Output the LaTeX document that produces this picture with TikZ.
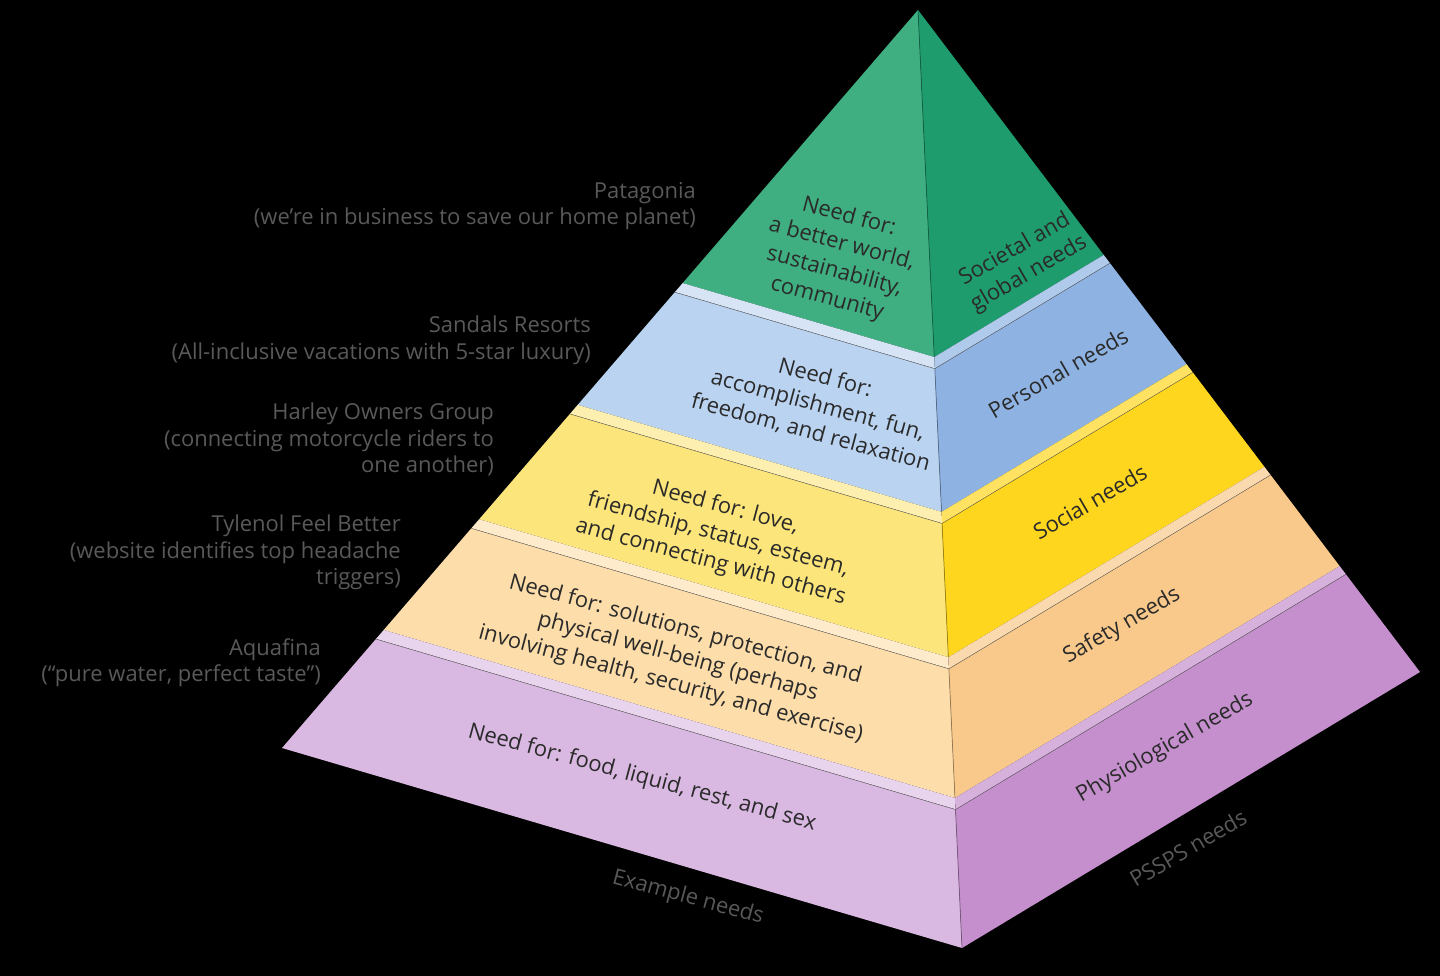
\documentclass[tikz,border=0pt]{standalone}
\usepackage{fontspec}
\setmainfont{Open Sans}
\usetikzlibrary{calc}
\definecolor{ink}{HTML}{2A2A2A}
\definecolor{gpL}{HTML}{3FAE80}\definecolor{gpR}{HTML}{1E9C6E}
\definecolor{blL}{HTML}{BAD3F0}\definecolor{blR}{HTML}{8EB3E2}
\definecolor{yeL}{HTML}{FCE57A}\definecolor{yeR}{HTML}{FFD61E}
\definecolor{orL}{HTML}{FDDDAA}\definecolor{orR}{HTML}{F8C98B}
\definecolor{puL}{HTML}{D9B8E1}\definecolor{puR}{HTML}{C48FCC}
\tikzset{
  facetext/.style={font=\fontsize{12.5}{16}\selectfont, text=ink, align=center, rotate=-15},
  sidetext/.style={font=\fontsize{12.5}{16}\selectfont, text=ink, align=center, rotate=30},
  example/.style={font=\fontsize{12.5}{15}\selectfont, text=black!65, align=right, anchor=north east}
}
% one band of the pyramid: #1 from, #2 to, #3 left colour, #4 right colour
\newcommand{\band}[4]{%
  \fill[#3] ($(A)!#1!(L)$) -- ($(A)!#1!(F)$) -- ($(A)!#2!(F)$) -- ($(A)!#2!(L)$) -- cycle;
  \fill[#4] ($(A)!#1!(F)$) -- ($(A)!#1!(R)$) -- ($(A)!#2!(R)$) -- ($(A)!#2!(F)$) -- cycle;
  \draw[black!70, line width=0.6pt] ($(A)!#1!(L)$) -- ($(A)!#1!(F)$) -- ($(A)!#1!(R)$);
  \draw[#4!60!black, line width=0.4pt] ($(A)!#1!(F)$) -- ($(A)!#2!(F)$);
}
\newcommand{\ledge}[3]{%
  \fill[#2!60!white] ($(A)!#1!(L)$) -- ($(A)!#1!(F)$) -- ($(A)!#1+0.012!(F)$) -- ($(A)!#1+0.012!(L)$) -- cycle;
  \fill[#3!70!white] ($(A)!#1!(F)$) -- ($(A)!#1!(R)$) -- ($(A)!#1+0.012!(R)$) -- ($(A)!#1+0.012!(F)$) -- cycle;
}
\begin{document}
\begin{tikzpicture}[x=0.02cm, y=-0.02cm]
\fill[black] (0,0) rectangle (1440,976);
\useasboundingbox (0,0) rectangle (1440,976);

\coordinate (A) at (918,10);
\coordinate (L) at (282,748);
\coordinate (F) at (962,948);
\coordinate (R) at (1420,672);

% Bands, top to bottom.
\band{0}{0.37}{gpL}{gpR}
\band{0.382}{0.535}{blL}{blR}
\band{0.547}{0.69}{yeL}{yeR}
\band{0.702}{0.84}{orL}{orR}
\band{0.852}{1}{puL}{puR}
\ledge{0.37}{blL}{blR}
\ledge{0.535}{yeL}{yeR}
\ledge{0.69}{orL}{orR}
\ledge{0.84}{puL}{puR}

% Face texts.
\node[facetext] (gnL) at (838,258) {Need for:\\a better world,\\sustainability,\\community};
\node[sidetext] (gnR) at (1022,262) {Societal and\\global needs};
\node[facetext] (blT) at (818,405) {Need for:\\accomplishment, fun,\\freedom, and relaxation};
\node[sidetext] (blS) at (1058,373) {Personal needs};
\node[facetext] (yeT) at (718,535) {Need for: love,\\friendship, status, esteem,\\and connecting with others};
\node[sidetext] (yeS) at (1090,502) {Social needs};
\node[facetext] (orT) at (678,657) {Need for: solutions, protection, and\\physical well-being (perhaps\\involving health, security, and exercise)};
\node[sidetext] (orS) at (1122,626) {Safety needs};
\node[facetext] (puT) at (642,778) {Need for: food, liquid, rest, and sex};
\node[sidetext] (puS) at (1165,748) {Physiological needs};

% Example labels.
\node[example] (pat) at (702,176) {Patagonia\\(we’re in business to save our home planet)};
\node[example] (san) at (597,310) {Sandals Resorts\\(All-inclusive vacations with 5-star luxury)};
\node[example] (har) at (500,397) {Harley Owners Group\\(connecting motorcycle riders to\\one another)};
\node[example] (tyl) at (407,509) {Tylenol Feel Better\\(website identifies top headache\\triggers)};
\node[example] (aqu) at (327,632) {Aquafina\\(“pure water, perfect taste”)};

% Axis names.
\node[facetext, text=black!65] (exn) at (688,898) {Example needs};
\node[sidetext, text=black!65] (psn) at (1188,848) {PSSPS needs};
\end{tikzpicture}
\end{document}
